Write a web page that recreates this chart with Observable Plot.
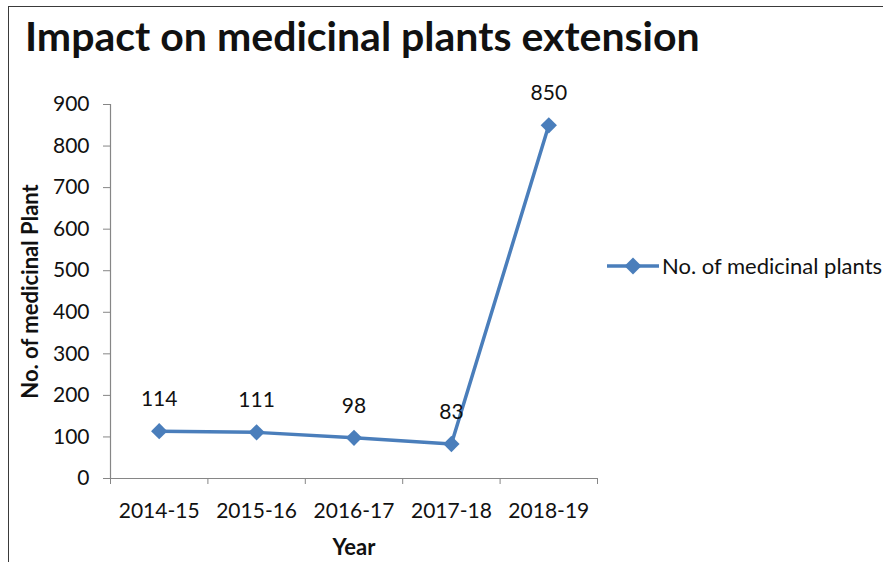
<!DOCTYPE html>
<html>
<head>
<meta charset="utf-8">
<script src="https://cdn.jsdelivr.net/npm/d3@7"></script>
<script src="https://cdn.jsdelivr.net/npm/@observablehq/plot@0.6"></script>
<style>
  html, body { margin: 0; padding: 0; background: #fff; }
  #wrap { position: relative; width: 883px; height: 562px; overflow: hidden; font-family: Lato, "Open Sans", sans-serif; }
  #border { position: absolute; left: 8px; top: 6px; width: 1000px; height: 1000px; border: 1.5px solid #3a3a3a; box-sizing: border-box; }
  #title { position: absolute; left: 25px; top: 11px; font-size: 41px; font-weight: 700; color: #111; white-space: nowrap; }
  #legend { position: absolute; left: 606px; top: 252px; display: flex; align-items: center; white-space: nowrap; font-size: 22px; color: #111; }
  #chart { position: absolute; left: 0; top: 0; }
</style>
</head>
<body>
<div id="wrap">
  <div id="border"></div>
  <div id="chart"></div>
  <div id="title">Impact on medicinal plants extension</div>
  <div id="legend">
    <svg width="54" height="20" style="margin-right:2px"><line x1="1" y1="10" x2="53" y2="10" stroke="#4A7EBB" stroke-width="3.5"/><rect x="21" y="4" width="12" height="12" fill="#4A7EBB" transform="rotate(45 27 10)"/></svg>
    <span>No. of medicinal plants</span>
  </div>
</div>
<script>
const years = ["2014-15", "2015-16", "2016-17", "2017-18", "2018-19"];
const plants = [114, 111, 98, 83, 850];
const yTicks = [0, 100, 200, 300, 400, 500, 600, 700, 800, 900];
const seriesName = "No. of medicinal plants";

const data = years.map((y, i) => ({i, year: y, value: plants[i]}));
const edges = d3.range(years.length + 1).map(k => k - 0.5);
const axisColor = "#868686";

const chart = Plot.plot({
  width: 883,
  height: 562,
  marginLeft: 110,
  marginRight: 286,
  marginTop: 104,
  marginBottom: 84,
  style: {fontFamily: "Lato, 'Open Sans', sans-serif", fontSize: "21px", color: "#111", background: "transparent"},
  x: {type: "linear", domain: [-0.5, years.length - 0.5]},
  y: {domain: [0, 900]},
  marks: [
    Plot.axisY({ticks: yTicks, tickSize: 7, tickPadding: 14, stroke: axisColor, fill: "#111", fontSize: 21, label: null}),
    Plot.axisX({ticks: edges, tickSize: 6, tickFormat: () => "", stroke: axisColor, label: null}),
    Plot.axisX({ticks: d3.range(years.length), tickSize: 0, tickPadding: 25, tickFormat: i => years[i], fill: "#111", fontSize: 21, label: null}),
    Plot.ruleX([-0.5], {y1: 0, y2: 900, stroke: axisColor, strokeWidth: 1.2}),
    Plot.ruleY([0], {stroke: axisColor, strokeWidth: 1.2}),
    Plot.line(data, {x: "i", y: "value", stroke: "#4A7EBB", strokeWidth: 3.5}),
    Plot.dot(data, {x: "i", y: "value", symbol: "square", r: 6.5, rotate: 45, fill: "#4A7EBB", stroke: "none"}),
    Plot.text(data, {x: "i", y: "value", text: d => String(d.value), lineAnchor: "bottom", dy: -25, fontSize: 21, fill: "#111"}),
    Plot.text(["Year"], {frameAnchor: "bottom", textAnchor: "middle", dy: 76, fontSize: 22, fontWeight: 700, fill: "#111"}),
    Plot.text(["No. of medicinal Plant"], {frameAnchor: "left", textAnchor: "middle", dx: -80, rotate: -90, fontSize: 22, fontWeight: 700, fill: "#111"})
  ]
});
document.getElementById("chart").appendChild(chart);
</script>
</body>
</html>
